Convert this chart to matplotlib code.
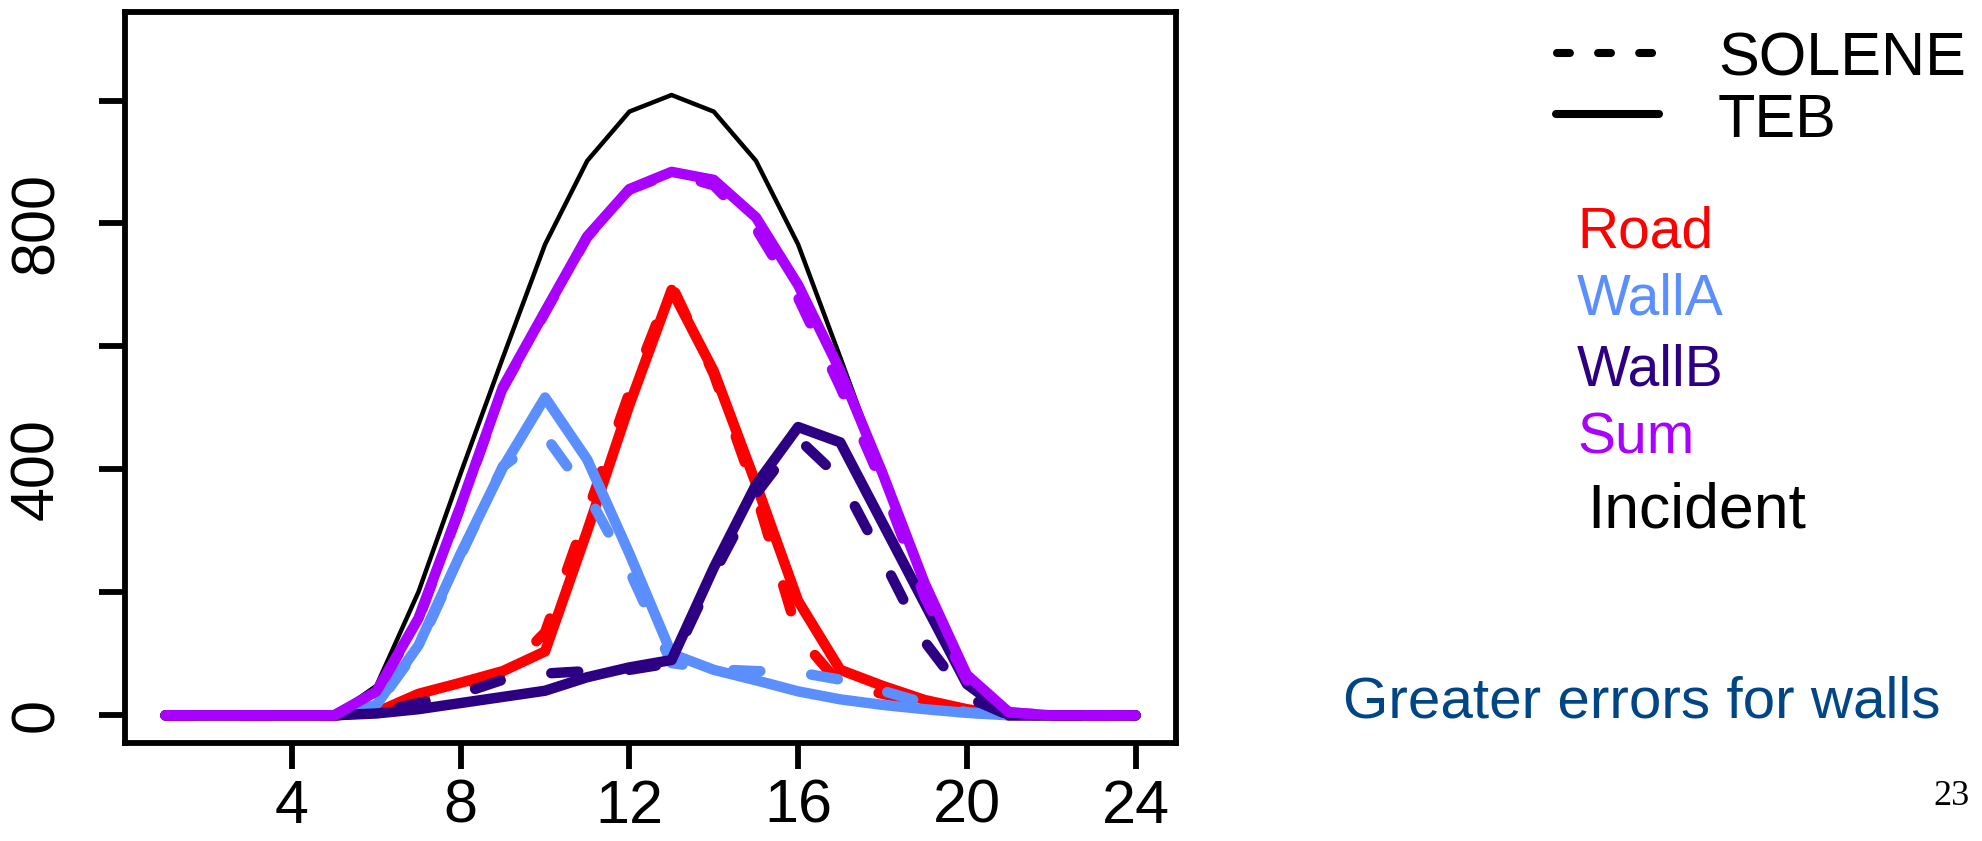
import matplotlib.pyplot as plt
from matplotlib.lines import Line2D

plt.rcParams["font.family"] = ["Liberation Sans", "DejaVu Sans"]

W, H = 1982, 841

HOURS = list(range(1, 25))

INCIDENT = [0, 0, 0, 0, 0, 48, 201, 394, 582, 766, 902, 982,
            1009, 982, 902, 766, 582, 394, 201, 48, 0, 0, 0, 0]

ROAD_TEB = [0, 0, 0, 0, 0, 5, 35, 53, 72, 104, 300, 505,
            692, 560, 377, 186, 74, 48, 25, 10, 0, 0, 0, 0]
ROAD_SOL = [0, 0, 0, 0, 0, 5, 25, 45, 65, 135, 330, 525,
            700, 555, 360, 130, 50, 35, 20, 5, 0, 0, 0, 0]

WALLA_TEB = [0, 0, 0, 0, 0, 17, 114, 263, 403, 517, 416, 263,
             100, 74, 57, 39, 26, 17, 10, 4, 0, 0, 0, 0]
WALLA_SOL = [0, 0, 0, 0, 0, 15, 110, 260, 405, 455, 360, 235,
             85, 75, 72, 70, 58, 40, 20, 5, 0, 0, 0, 0]

WALLB_TEB = [0, 0, 0, 0, 0, 3, 10, 20, 30, 40, 62, 78,
             90, 240, 375, 469, 444, 313, 182, 51, 0, 0, 0, 0]
WALLB_SOL = [0, 0, 0, 0, 0, 5, 20, 35, 58, 68, 72, 74,
             85, 230, 360, 450, 385, 255, 120, 30, 0, 0, 0, 0]

SUM_TEB = [0, 0, 0, 0, 0, 39, 158, 341, 534, 657, 779, 856,
           884, 871, 810, 700, 560, 394, 215, 66, 5, 0, 0, 0]
SUM_SOL = [0, 0, 0, 0, 0, 37, 156, 340, 532, 655, 778, 855,
           882, 862, 792, 679, 534, 376, 193, 57, 5, 0, 0, 0]

COLORS = {"Road": "#FF0000", "WallA": "#5B8FFF", "WallB": "#2D0083",
          "Sum": "#AA00FF", "Incident": "#000000"}

SERIES = [("Road", ROAD_SOL, ROAD_TEB),
          ("WallA", WALLA_SOL, WALLA_TEB),
          ("WallB", WALLB_SOL, WALLB_TEB),
          ("Sum", SUM_SOL, SUM_TEB)]

XTICKS = [4, 8, 12, 16, 20, 24]
YTICKS = [0, 200, 400, 600, 800, 1000]
YTICKLABELS = ["0", "", "400", "", "800", ""]

fig = plt.figure(figsize=(W / 100, H / 100), dpi=100)
ax = fig.add_axes([125 / W, 1 - 743 / H, (1176 - 125) / W, (743 - 12) / H])

lw = 7.5
ax.plot(HOURS, INCIDENT, color=COLORS["Incident"], lw=3.2,
        solid_joinstyle="round")
for name, sol, teb in SERIES:
    ax.plot(HOURS, sol, color=COLORS[name], lw=lw, dashes=(2.6, 4.9),
            dash_capstyle="round", dash_joinstyle="round")
    ax.plot(HOURS, teb, color=COLORS[name], lw=lw,
            solid_capstyle="round", solid_joinstyle="round")

ax.set_xlim(0.04, 24.96)
ax.set_ylim(-45, 1144)
ax.set_xticks(XTICKS)
ax.set_xticklabels([str(t) for t in XTICKS])
ax.set_yticks(YTICKS)
ax.set_yticklabels(YTICKLABELS, rotation=90, va="center")
for s in ax.spines.values():
    s.set_linewidth(4.2)
ax.tick_params(axis="both", length=18.7, width=4.2, labelsize=44)
ax.tick_params(axis="x", pad=7)
ax.tick_params(axis="y", pad=24)

# key drawn beside the plot
def fx(px):
    return px / W

def fy(py):
    return 1 - py / H

fig.add_artist(Line2D([fx(1557), fx(1653)], [fy(53), fy(53)], color="black",
                      lw=5.8, dashes=(1.6, 3.5), dash_capstyle="round",
                      transform=fig.transFigure))
fig.add_artist(Line2D([fx(1556), fx(1659)], [fy(114), fy(114)], color="black",
                      lw=5.8, solid_capstyle="round",
                      transform=fig.transFigure))
fig.text(fx(1718), fy(75), "SOLENE", fontsize=44, va="baseline")
fig.text(fx(1718), fy(137), "TEB", fontsize=44, va="baseline")

fig.text(fx(1577), fy(247), "Road", fontsize=41, color=COLORS["Road"], va="baseline")
fig.text(fx(1577), fy(315), "WallA", fontsize=41, color=COLORS["WallA"], va="baseline")
fig.text(fx(1577), fy(385), "WallB", fontsize=41, color=COLORS["WallB"], va="baseline")
fig.text(fx(1577), fy(454), "Sum", fontsize=41, color=COLORS["Sum"], va="baseline")
fig.text(fx(1587), fy(527), "Incident", fontsize=45, color="black", va="baseline")

fig.text(fx(1343), fy(718), "Greater errors for walls", fontsize=42,
         color="#004586", va="baseline")
fig.text(fx(1970), fy(805), "23", fontsize=26, family="Liberation Serif",
         ha="right", va="baseline")

fig.savefig("out.png", dpi=100)
